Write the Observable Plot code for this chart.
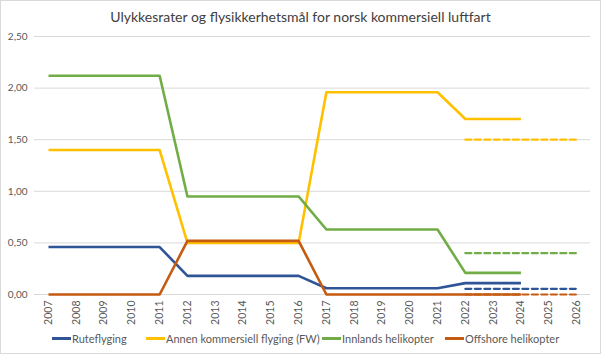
<!DOCTYPE html>
<html>
<head>
<meta charset="utf-8">
<script src="https://cdn.jsdelivr.net/npm/d3@7"></script>
<script src="https://cdn.jsdelivr.net/npm/@observablehq/plot@0.6"></script>
<style>
  html, body { margin: 0; padding: 0; background: #fff; }
  #chart { position: relative; width: 599px; height: 352px; border: 1px solid #d9d9d9; font-family: Lato, "Open Sans", sans-serif; overflow: hidden; }
  #title { position: absolute; top: 7px; left: 0; width: 599px; text-align: center; font-size: 14px; color: #404040; }
  #plot { position: absolute; top: 28px; left: -1px; width: 601px; }
  #plot svg { max-width: none !important; }
  .leg { position: absolute; top: 331px; font-size: 11px; color: #595959; display: flex; align-items: center; white-space: nowrap; }
  .leg span.sw { display: inline-block; width: 19px; height: 3px; margin-right: 1px; }
</style>
</head>
<body>
<div id="chart">
  <div id="title">Ulykkesrater og flysikkerhetsmål for norsk kommersiell luftfart</div>
  <div id="plot"></div>
</div>
<script>
const years = [2007,2008,2009,2010,2011,2012,2013,2014,2015,2016,2017,2018,2019,2020,2021,2022,2023,2024,2025,2026];
const actualYears = [2007,2008,2009,2010,2011,2012,2013,2014,2015,2016,2017,2018,2019,2020,2021,2022,2023,2024];
const targetYears = [2022,2023,2024,2025,2026];

const seriesNames = ["Ruteflyging", "Annen kommersiell flyging (FW)", "Innlands helikopter", "Offshore helikopter"];
const seriesColors = ["#2F5597", "#FFC000", "#70AD47", "#C55A11"];

const ruteflyging = [0.46,0.46,0.46,0.46,0.46,0.18,0.18,0.18,0.18,0.18,0.06,0.06,0.06,0.06,0.06,0.11,0.11,0.11];
const annen       = [1.40,1.40,1.40,1.40,1.40,0.50,0.50,0.50,0.50,0.50,1.96,1.96,1.96,1.96,1.96,1.70,1.70,1.70];
const innlands    = [2.12,2.12,2.12,2.12,2.12,0.95,0.95,0.95,0.95,0.95,0.63,0.63,0.63,0.63,0.63,0.21,0.21,0.21];
const offshore    = [0,0,0,0,0,0.52,0.52,0.52,0.52,0.52,0,0,0,0,0,0,0,0];

const targetRute     = [0.055,0.055,0.055,0.055,0.055];
const targetAnnen    = [1.50,1.50,1.50,1.50,1.50];
const targetInnlands = [0.40,0.40,0.40,0.40,0.40];
const targetOffshore = [0,0,0,0,0];

const yTicks = [0, 0.5, 1.0, 1.5, 2.0, 2.5];

const actualSeries = [ruteflyging, annen, innlands, offshore];
const targetSeries = [targetRute, targetAnnen, targetInnlands, targetOffshore];

const actualData = [];
actualSeries.forEach((arr, si) => arr.forEach((v, i) => actualData.push({year: actualYears[i], value: v, series: seriesNames[si]})));
const targetData = [];
targetSeries.forEach((arr, si) => arr.forEach((v, i) => targetData.push({year: targetYears[i], value: v, series: seriesNames[si]})));

const fmt = v => v.toFixed(2).replace(".", ",");

const plot = Plot.plot({
  width: 601,
  height: 305,
  marginTop: 7,
  marginLeft: 34,
  marginRight: 11,
  marginBottom: 40,
  style: { fontFamily: 'Lato, "Open Sans", sans-serif', fontSize: "10px", color: "#595959", background: "transparent", maxWidth: "none" },
  x: { type: "point", domain: years, range: [48, 576], padding: 0, round: false, label: null },
  y: { domain: [0, 2.5], label: null },
  color: { domain: seriesNames, range: seriesColors },
  marks: [
    Plot.gridY(yTicks, { stroke: "#d9d9d9", strokeOpacity: 1, strokeWidth: 1 }),
    Plot.axisY({ ticks: yTicks, tickFormat: fmt, tickSize: 0, tickPadding: 7, label: null, fontSize: 10 }),
    Plot.axisX({ ticks: years, tickFormat: d => String(d), tickRotate: -90, tickSize: 0, tickPadding: 6, label: null, fontSize: 10.5 }),
    Plot.line(targetData, { x: "year", y: "value", z: "series", stroke: "series", strokeWidth: 2.2, strokeDasharray: "6,3.5" }),
    Plot.line(actualData, { x: "year", y: "value", z: "series", stroke: "series", strokeWidth: 2.6, strokeLinejoin: "round", strokeLinecap: "butt" })
  ]
});
document.getElementById("plot").appendChild(plot);

const legendLefts = [51, 145, 321, 444];
const chart = document.getElementById("chart");
seriesNames.forEach((name, i) => {
  const d = document.createElement("div");
  d.className = "leg";
  d.style.left = legendLefts[i] + "px";
  d.innerHTML = `<span class="sw" style="background:${seriesColors[i]}"></span><span>${name}</span>`;
  chart.appendChild(d);
});
</script>
</body>
</html>
